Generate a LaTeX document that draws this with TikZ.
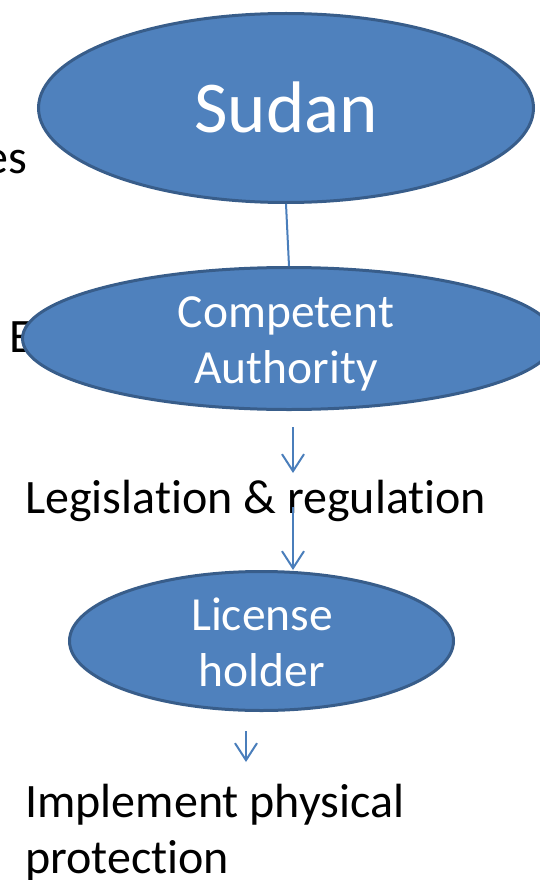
\documentclass[tikz,border=0pt]{standalone}
\usepackage{fontspec}
\setmainfont[Ligatures=NoCommon]{Carlito}
\usetikzlibrary{shapes.geometric,arrows.meta}
\definecolor{fillblue}{HTML}{4F81BD}
\definecolor{edgeblue}{HTML}{385D8A}
\definecolor{lineblue}{HTML}{4A7EBB}
\begin{document}
\begin{tikzpicture}[x=1pt,y=-1pt,
  oval/.style={ellipse, draw=edgeblue, fill=fillblue, line width=3pt, inner sep=0pt},
  intext/.style={text=white, font=\fontsize{47.5}{56}\selectfont, align=center, inner sep=0pt},
  plaintext/.style={text=black, font=\fontsize{48}{56}\selectfont, align=left, inner sep=0pt},
  conn/.style={draw=lineblue, line width=2pt},
  arr/.style={conn, -{Straight Barb[length=17pt,width=22pt,line width=2pt]}}]
\useasboundingbox (0,0) rectangle (540,880);
\clip (0,0) rectangle (540,880);
% partial texts at left edge
\node[plaintext, anchor=base east] (es) at (27,173) {es};
\node[plaintext, anchor=base west] (e) at (9,352) {E};
% ellipses
\node[oval, minimum width=495pt, minimum height=189pt] (sudan) at (286,108) {};
\node[oval, minimum width=533pt, minimum height=142pt] (comp) at (289,338.5) {};
\node[oval, minimum width=384pt, minimum height=139pt] (lic) at (261.5,641) {};
% texts in ellipses
\node[intext, font=\fontsize{73}{88}\selectfont, anchor=base] (sudant) at (286,132) {Sudan};
\node[intext] (compt) at (286,344) {Competent\\Authority};
\node[intext] (lict) at (262,642) {License\\holder};
% free texts
\node[plaintext, anchor=base west] (leg) at (25,513) {Legislation \& regulation};
\node[plaintext, anchor=north west] (impl) at (25,784) {Implement physical\\protection};
% connectors
\coordinate (a1s) at (293,427);
\coordinate (a1e) at (293,473);
\coordinate (a2s) at (293,507);
\coordinate (a3s) at (246,731);
\coordinate (a3e) at (246,762);
\draw[conn] (sudan.south) -- (comp.north);
\draw[arr] (a1s) -- (a1e);
\draw[arr] (a2s) -- (a2s |- lic.north);
\draw[arr] (a3s) -- (a3e);
\end{tikzpicture}
\end{document}
